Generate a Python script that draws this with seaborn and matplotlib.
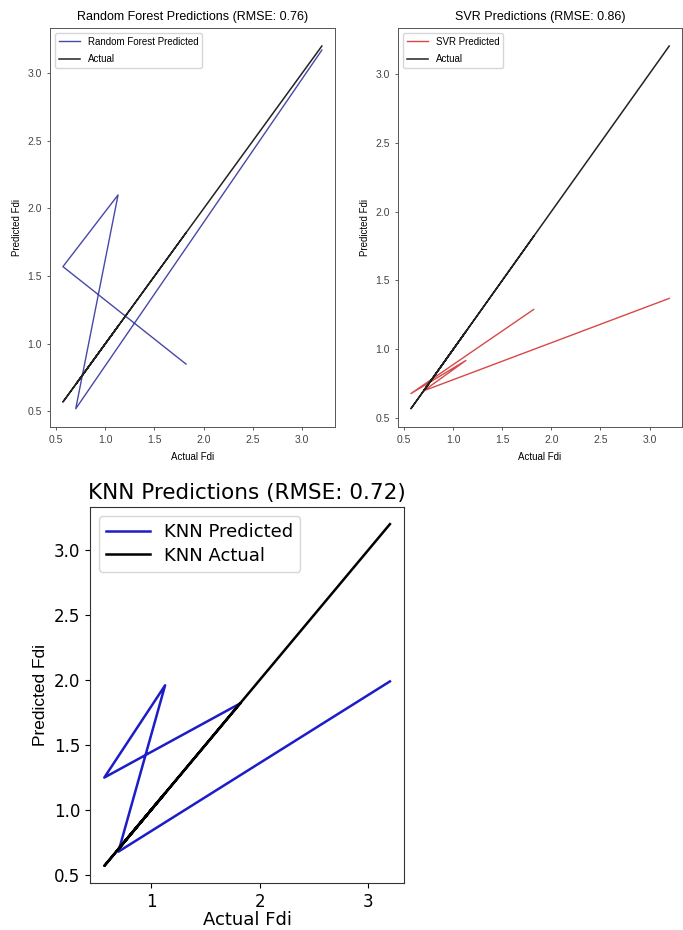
import matplotlib
matplotlib.use('Agg')
import matplotlib.pyplot as plt
import seaborn as sns
import pandas as pd

# test set values, in the order they were plotted
actual = [1.82, 0.57, 1.13, 0.70, 3.20]
rf_pred = [0.85, 1.57, 2.10, 0.52, 3.17]
svr_pred = [1.29, 0.68, 0.92, 0.70, 1.37]
knn_pred = [1.82, 1.25, 1.96, 0.68, 1.99]

rf_rmse = 0.76
svr_rmse = 0.86
knn_rmse = 0.72

narrow = ['Liberation Sans', 'DejaVu Sans']

df = pd.DataFrame({'actual': actual, 'rf': rf_pred, 'svr': svr_pred, 'knn': knn_pred})

fig = plt.figure(figsize=(6.83, 9.3), dpi=100)

# Random Forest
ax1 = fig.add_axes([0.0732, 0.541, 0.417, 0.429])
sns.lineplot(data=df, x='actual', y='rf', sort=False, estimator=None, color='#4848a8',
             lw=1.0, label='Random Forest Predicted', ax=ax1)
sns.lineplot(data=df, x='actual', y='actual', sort=False, estimator=None, color='#222222',
             lw=1.1, label='Actual', ax=ax1)
ax1.set_title(f'Random Forest Predictions (RMSE: {rf_rmse:.2f})', fontsize=9, family=narrow)
ax1.set_ylabel('Predicted Fdi', fontsize=7, family=narrow)

# SVR
ax2 = fig.add_axes([0.5827, 0.541, 0.416, 0.429])
sns.lineplot(data=df, x='actual', y='svr', sort=False, estimator=None, color='#d84848',
             lw=1.0, label='SVR Predicted', ax=ax2)
sns.lineplot(data=df, x='actual', y='actual', sort=False, estimator=None, color='#222222',
             lw=1.1, label='Actual', ax=ax2)
ax2.set_title(f'SVR Predictions (RMSE: {svr_rmse:.2f})', fontsize=9, family=narrow)
ax2.set_ylabel('Predicted Fdi', fontsize=7, family=narrow)

for ax in (ax1, ax2):
    ax.set_xlabel('Actual Fdi', fontsize=7, family=narrow, labelpad=5)
    ax.set_xticks([0.5, 1.0, 1.5, 2.0, 2.5, 3.0])
    ax.set_yticks([0.5, 1.0, 1.5, 2.0, 2.5, 3.0])
    ax.tick_params(labelsize=7.5, length=2.5, width=0.6, colors='#444444')
    for lab in ax.get_xticklabels() + ax.get_yticklabels():
        lab.set_family(narrow)
    for s in ax.spines.values():
        s.set_linewidth(0.7)
        s.set_color('#555555')
    ax.legend(loc='upper left', prop={'family': narrow, 'size': 7}, labelspacing=0.8,
              handlelength=2.2)

# KNN
ax3 = fig.add_axes([0.1318, 0.0505, 0.460, 0.4043])
sns.lineplot(data=df, x='actual', y='knn', sort=False, estimator=None, color='#1c1cc8',
             lw=1.8, label='KNN Predicted', ax=ax3)
sns.lineplot(data=df, x='actual', y='actual', sort=False, estimator=None, color='black',
             lw=1.8, label='KNN Actual', ax=ax3)
ax3.set_title(f'KNN Predictions (RMSE: {knn_rmse:.2f})', fontsize=15.5)
ax3.set_xlabel('Actual Fdi', fontsize=13, labelpad=0)
ax3.set_ylabel('Predicted Fdi', fontsize=12.5, family=narrow)
ax3.set_xticks([1, 2, 3])
ax3.set_yticks([0.5, 1.0, 1.5, 2.0, 2.5, 3.0])
ax3.tick_params(labelsize=12)
for s in ax3.spines.values():
    s.set_color('#333333')
ax3.legend(loc='upper left', fontsize=13, labelspacing=0.3, handlelength=2.4)

fig.savefig('out.png', dpi=100)
